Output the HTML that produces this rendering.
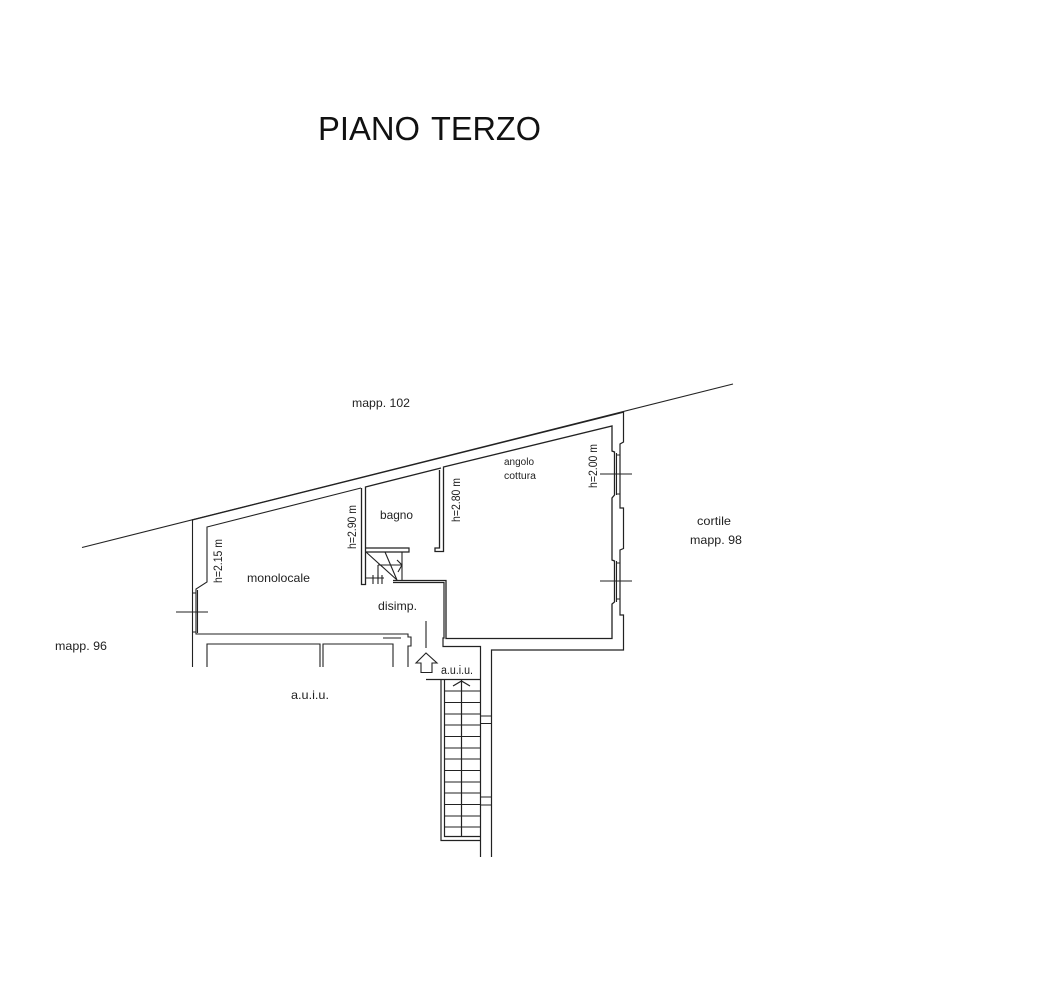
<!DOCTYPE html>
<html><head><meta charset="utf-8"><style>
html,body{margin:0;padding:0;background:#fff;width:1052px;height:988px;overflow:hidden}
svg{display:block}
text{font-family:"Liberation Sans",sans-serif;fill:#222}
path,line{fill:none;stroke:#222;stroke-width:1.1}
</style></head><body>
<svg width="1052" height="988" viewBox="0 0 1052 988" xmlns="http://www.w3.org/2000/svg">
<text x="318" y="140" font-size="33.5" textLength="102" lengthAdjust="spacingAndGlyphs" style="fill:#111">PIANO</text>
<text x="431" y="140" font-size="33.5" textLength="110" lengthAdjust="spacingAndGlyphs" style="fill:#111">TERZO</text>
<text x="352" y="407" font-size="12" textLength="58" lengthAdjust="spacingAndGlyphs">mapp. 102</text>
<text x="55" y="650" font-size="12" textLength="52" lengthAdjust="spacingAndGlyphs">mapp. 96</text>
<text x="697" y="525" font-size="12" textLength="34" lengthAdjust="spacingAndGlyphs">cortile</text>
<text x="690" y="544" font-size="12" textLength="52" lengthAdjust="spacingAndGlyphs">mapp. 98</text>
<text x="291" y="699" font-size="12" textLength="38" lengthAdjust="spacingAndGlyphs">a.u.i.u.</text>
<text x="247" y="582" font-size="12" textLength="63" lengthAdjust="spacingAndGlyphs">monolocale</text>
<text x="380" y="519" font-size="12" textLength="33" lengthAdjust="spacingAndGlyphs">bagno</text>
<text x="378" y="610" font-size="12" textLength="39" lengthAdjust="spacingAndGlyphs">disimp.</text>
<text x="441" y="674" font-size="11.500" textLength="32" lengthAdjust="spacingAndGlyphs">a.u.i.u.</text>
<text x="504" y="465" font-size="10" textLength="30" lengthAdjust="spacingAndGlyphs">angolo</text>
<text x="504" y="479" font-size="10" textLength="32" lengthAdjust="spacingAndGlyphs">cottura</text>
<text transform="translate(222,583) rotate(-90)" font-size="12" textLength="44" lengthAdjust="spacingAndGlyphs">h=2.15 m</text>
<text transform="translate(356,549) rotate(-90)" font-size="12" textLength="44" lengthAdjust="spacingAndGlyphs">h=2.90 m</text>
<text transform="translate(460,522) rotate(-90)" font-size="12" textLength="44" lengthAdjust="spacingAndGlyphs">h=2.80 m</text>
<text transform="translate(597,488) rotate(-90)" font-size="12" textLength="44" lengthAdjust="spacingAndGlyphs">h=2.00 m</text>

<!-- boundary -->
<line x1="82" y1="547.5" x2="733" y2="384"/>
<line x1="192" y1="520" x2="624" y2="412" style="stroke-width:1.3"/>
<!-- left walls -->
<path d="M192.500 520V667"/>
<path d="M361 488L207 527V582L196 589V634H408V637H411V646H408V667"/>
<path d="M197.500 590V633M192.500 593H196M192.500 632H196" />
<line x1="176" y1="612" x2="208" y2="612"/>
<path d="M207 667V644H320V667M323 667V644H393V667M383 638H401"/>
<!-- partition -->
<path d="M361.500 488V584.500H365.500V487L441 468" style="stroke-width:1.3"/>
<path d="M439.500 470V548H435V551.500H443.500V467L612 426V451L614.500 452V495L612 498V560L614.500 561V602L612 604V638.500H446V580.500H393" style="stroke-width:1.3"/>
<path d="M393 582.500H444V638H443V646.500H480.500V857M491.500 857V650H623.500V615H620V550L623.500 548.500V508H620V444L623.500 442V412" style="stroke-width:1.2"/>
<path d="M616.500 453V495M620 455H616.500M620 494H616.500M616.500 561V602M620 563H616.500M620 599H616.500"/>
<line x1="600" y1="474" x2="632" y2="474"/>
<line x1="600" y1="581" x2="632" y2="581"/>
<!-- bagno bottom + stair -->
<path d="M366 548H409V552H366" style="stroke-width:1.2"/>
<path d="M402 552V580M366 552L397 580M385 552L397 580M378 565H402M378 565V579M397 560L402 565L398 572"/>
<path d="M366 578H384M373 575V584M378 575V584M382 575V584"/>
<!-- arrow -->
<line x1="426" y1="621" x2="426" y2="648"/>
<path d="M426 653L416 663H421V672.500H432V663H437Z"/>
<!-- stairs -->
<path d="M426 679.500H480M441 680V840.500H480M444.500 680V836.500H480M461.500 679.500V836M453 686L461.500 681L470 686" style="stroke-width:1.2"/>
<path d="M444 691H480M444 702.500H480M444 714H480M444 725H480M444 736.500H480M444 748H480M444 759H480M444 770.500H480M444 782H480M444 793H480M444 804.500H480M444 816H480M444 827H480"/>
<path d="M480 716H491M480 723.500H491M480 797H491M480 805H491"/>
</svg>
</body></html>
